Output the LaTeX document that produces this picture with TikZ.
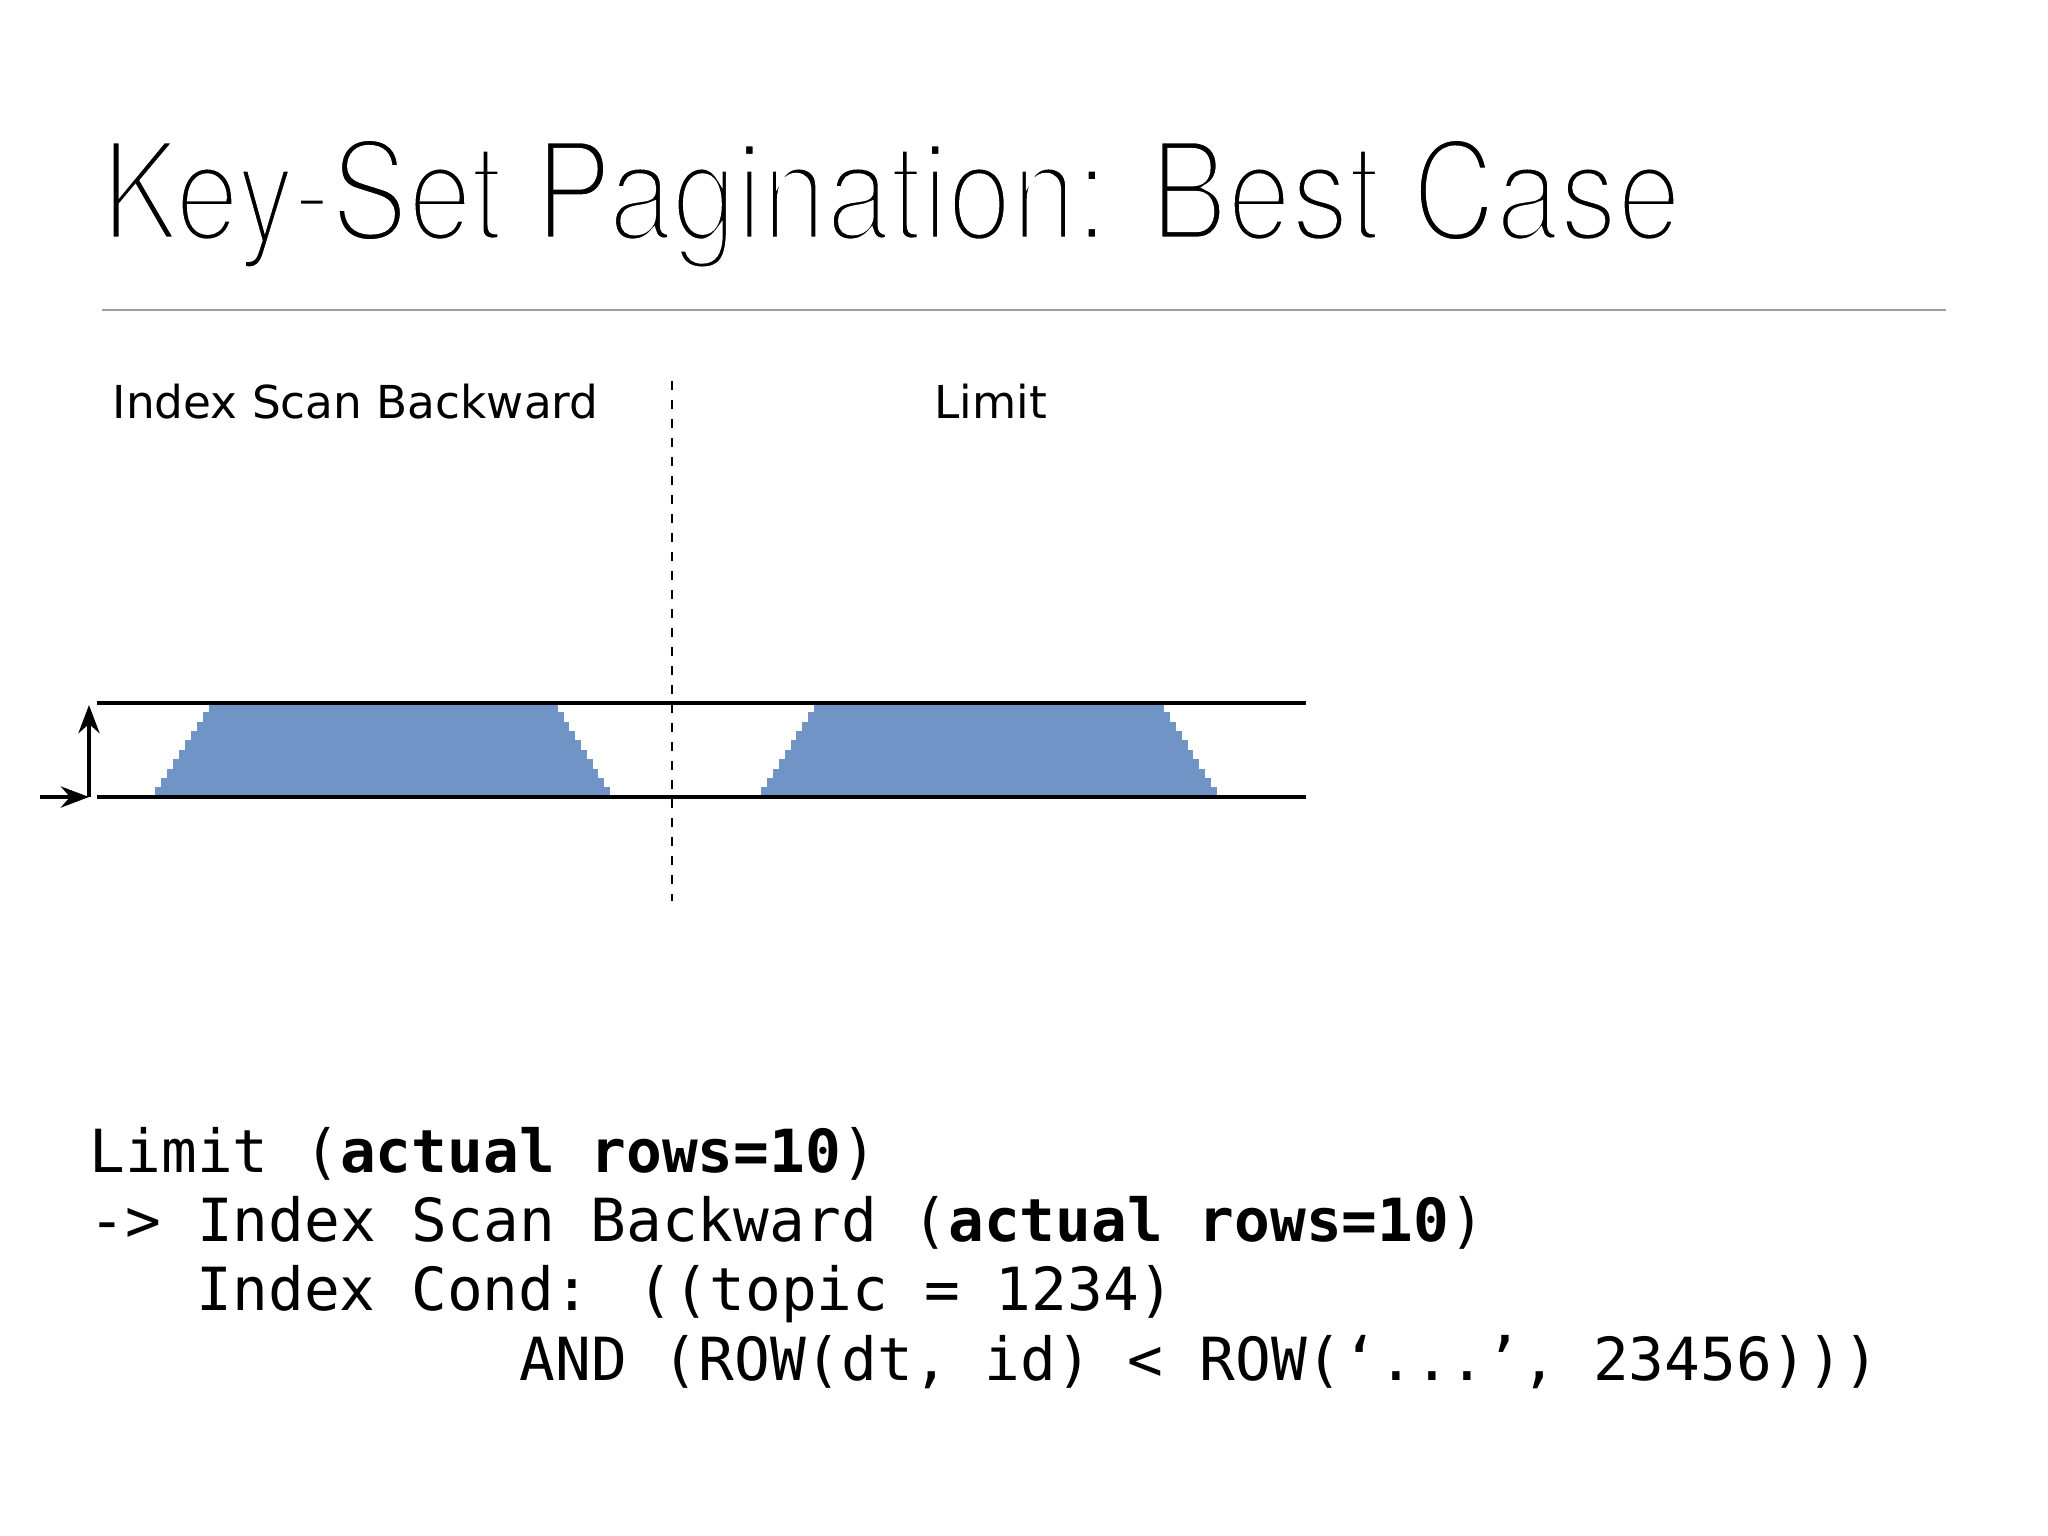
\documentclass[tikz,border=0pt]{standalone}
\usepackage{fontspec}
\usepackage{tikz}
\usetikzlibrary{arrows.meta}
\newfontfamily\titlefont{TeX Gyre Heros}
\newfontfamily\planfont{DejaVu Sans}
\newfontfamily\codefont{DejaVu Sans Mono}
\definecolor{rowblue}{RGB}{112,148,198}
% thin the title strokes: fill, then stroke the outline in white
\newcommand\thinon{\special{pdf:literal direct 2 Tr 1 1 1 RG 1.9 w}}
\newcommand\thinoff{\special{pdf:literal direct 0 Tr 0 0 0 RG}}

\begin{document}
\begin{tikzpicture}[x=0.01cm, y=-0.01cm, >={Stealth[length=8pt,width=6pt]},
  band/.style={line width=1pt},
  lbl/.style={anchor=base west,inner sep=0,font=\planfont\fontsize{12.9pt}{15pt}\selectfont},
  codeline/.style={anchor=base west,inner sep=0,font=\codefont\fontsize{16.9pt}{20pt}\selectfont}]
\useasboundingbox (0,0) rectangle (2048,1536);
\node[anchor=base west,inner sep=0] (title) at (101,240) {\scalebox{0.84}[1]{\titlefont\fontsize{39pt}{42pt}\selectfont\thinon Key-Set Pagination: Best Case\thinoff}};
\coordinate (ruleL) at (102,310); \coordinate (ruleR) at (1946,310);
\draw[black!38,line width=0.6pt] (ruleL)--(ruleR);
\node[lbl] (scanlbl) at (112,418) {Index Scan Backward};
\node[lbl] (limitlbl) at (934,418) {Limit};
% stepped row counts
\foreach \xa/\xb/\dl/\dr in {155/610/6/5.8, 761/1217/5.9/5.9}
  \foreach \i in {0,...,9}
    \fill[rowblue] (\xa+\i*\dl,797-\i*9.4) rectangle (\xb-\i*\dr,797-\i*9.4-9.6);
\coordinate (bandTL) at (97,703); \coordinate (bandTR) at (1306,703);
\coordinate (bandBL) at (97,797); \coordinate (bandBR) at (1306,797);
\draw[band] (bandTL)--(bandTR); \draw[band] (bandBL)--(bandBR);
\coordinate (splitT) at (672,381); \coordinate (splitB) at (672,901);
\draw[dash pattern=on 2.5pt off 2.9pt,line width=0.5pt] (splitT)--(splitB);
\coordinate (arrIn) at (40,797); \coordinate (arrOrg) at (89,797); \coordinate (arrUp) at (89,705);
\draw[->,line width=1.2pt] (arrIn)--(arrOrg); \draw[->,line width=1.2pt] (arrOrg)--(arrUp);
% plan output
\node[codeline] (plan1) at (89,1172) {Limit (\textbf{actual rows=10})};
\node[codeline] (plan2) at (89,1241) {-> Index Scan Backward (\textbf{actual rows=10})};
\node[codeline] (plan3) at (196,1310) {Index Cond: ((topic = 1234)};
\node[codeline] (plan4) at (519,1380) {AND (ROW(dt, id) < ROW(‘...’, 23456)))};
\end{tikzpicture}
\end{document}
